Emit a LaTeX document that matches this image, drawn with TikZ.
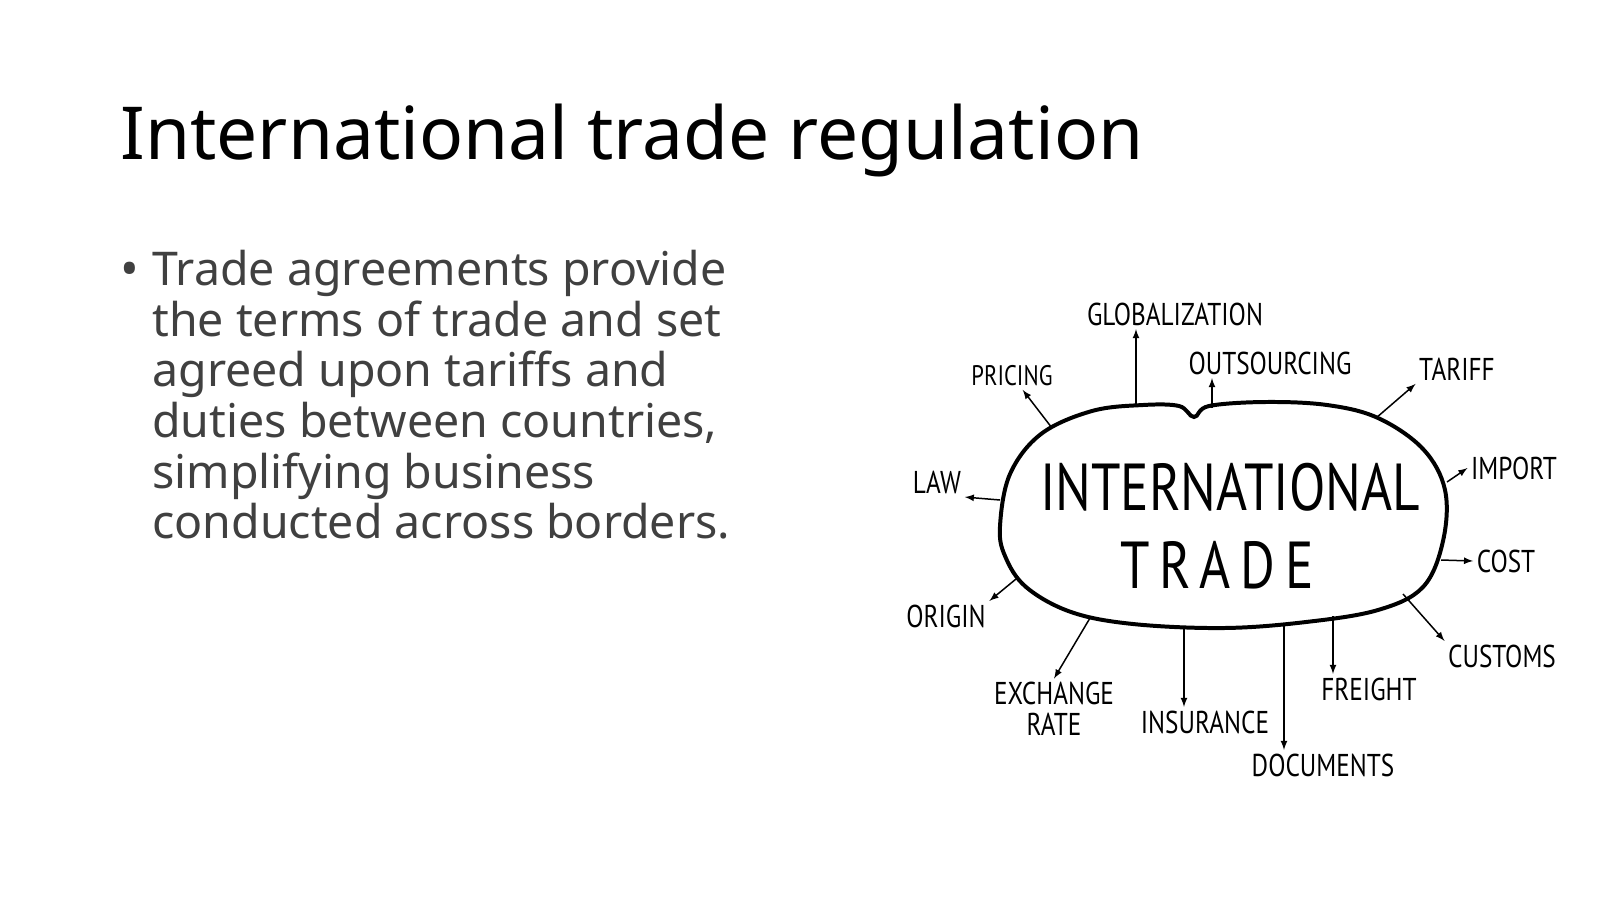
\documentclass[tikz,border=0pt]{standalone}
\usepackage{fontspec}
\setmainfont{Noto Sans}
\newfontfamily\handfont[FakeStretch=0.8]{PT Sans}
\definecolor{bodygray}{HTML}{404040}
\tikzset{
    lbl/.style={font=\handfont\fontsize{19}{18.7}\selectfont, inner sep=2pt},
    bigtext/.style={font=\handfont\fontsize{40}{44}\selectfont, inner sep=0pt},
    blobline/.style={line width=2.4pt}
}
\begin{document}
\begin{tikzpicture}[x=0.021167cm,y=-0.021167cm]
                    \useasboundingbox (0,0) rectangle (1600,899);

                    \node (title) at (120,159) [anchor=base west, inner sep=0pt, font=\fontsize{44}{52}\selectfont] {International trade regulation};

                    \node (bullet) at (130,274) [inner sep=0pt, text=bodygray, font=\fontsize{30}{29}\selectfont] {\textbullet};
                    \node (body) at (152,250) [anchor=north west, inner sep=0pt, align=left, text=bodygray, font=\fontsize{28}{30.5}\selectfont] {Trade agreements provide\\the terms of trade and set\\agreed upon tariffs and\\duties between countries,\\simplifying business\\conducted across borders.};

                    \draw [blobline] plot [smooth cycle, tension=0.6] coordinates {(1000,526) (1010,474) (1041,434) (1092,411) (1143,405) (1179,406) (1194,417) (1209,406) (1265,402) (1327,405) (1378,418) (1423,449) (1445,490) (1443,541) (1423,587) (1378,610) (1306,622) (1224,628) (1133,624) (1071,612) (1026,587) (1005,556)};

                    \node (intl) at (1230,487) [bigtext] {INTERNATIONAL};
                    \node (trade) at (1217,565) [bigtext] {\addfontfeature{LetterSpace=15}TRADE};

                    \node (glob-s) [coordinate] at (1136,406) {};
                    \node (pricing-s) [coordinate] at (1052,428) {};
                    \node (outs-s) [coordinate] at (1212,408) {};
                    \node (tariff-s) [coordinate] at (1376,418) {};
                    \node (import-s) [coordinate] at (1447,482) {};
                    \node (law-s) [coordinate] at (1000,500) {};
                    \node (cost-s) [coordinate] at (1441,560) {};
                    \node (origin-s) [coordinate] at (1016,579) {};
                    \node (customs-s) [coordinate] at (1403,594) {};
                    \node (exch-s) [coordinate] at (1090,618) {};
                    \node (insur-s) [coordinate] at (1184,628) {};
                    \node (docs-s) [coordinate] at (1284,624) {};
                    \node (freight-s) [coordinate] at (1333,616) {};

                    \node (glob) at (1175,314) [lbl] {GLOBALIZATION};
                    \node (pricing) at (1012,376) [lbl, font=\handfont\fontsize{17}{18}\selectfont] {PRICING};
                    \node (outs) at (1270,363) [lbl] {OUTSOURCING};
                    \node (tariff) at (1457,369) [lbl] {TARIFF};
                    \node (import) at (1514,468) [lbl] {IMPORT};
                    \node (law) at (937,482) [lbl] {LAW};
                    \node (cost) at (1506,561) [lbl] {COST};
                    \node (origin) at (946,616) [lbl] {ORIGIN};
                    \node (customs) at (1502,656) [lbl] {CUSTOMS};
                    \node (exch) at (1054,709) [lbl, align=center] {EXCHANGE\\RATE};
                    \node (insur) at (1205,722) [lbl] {INSURANCE};
                    \node (docs) at (1323,765) [lbl] {DOCUMENTS};
                    \node (freight) at (1369,689) [lbl] {FREIGHT};

                    \path [->,>=latex, line width=0.9pt]
                        (glob-s) edge (glob-s |- glob.south)
                        (pricing-s) edge (pricing)
                        (outs-s) edge (outs-s |- outs.south)
                        (tariff-s) edge (tariff.south west)
                        (import-s) edge (import.west)
                        (law-s) edge (law.south east)
                        (cost-s) edge (cost.west)
                        (origin-s) edge (origin.north east)
                        (customs-s) edge (customs.north west)
                        (exch-s) edge (exch.north)
                        (insur-s) edge (insur-s |- insur.north)
                        (docs-s) edge (docs-s |- docs.north)
                        (freight-s) edge (freight-s |- freight.north)
                    ;
\end{tikzpicture}
\end{document}
